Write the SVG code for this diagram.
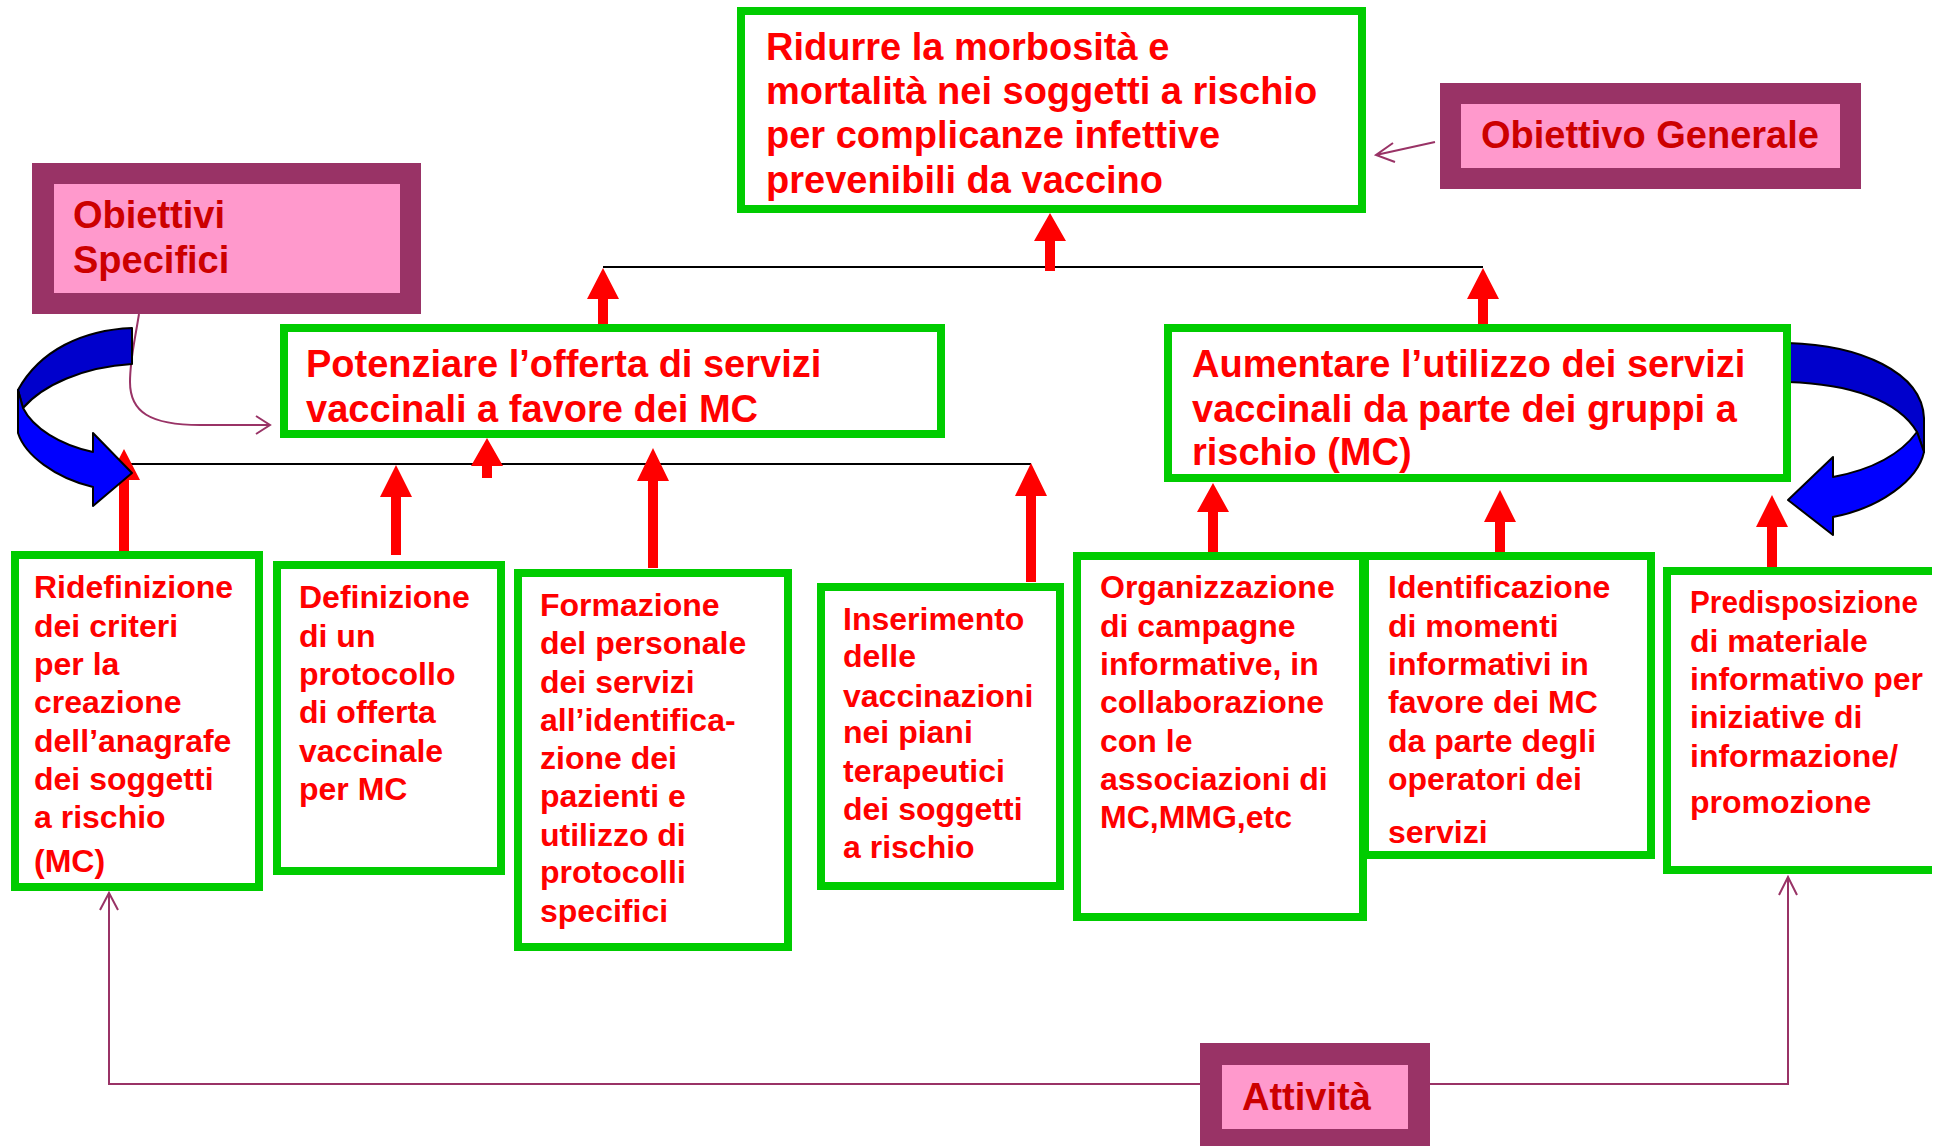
<svg xmlns="http://www.w3.org/2000/svg" width="1941" height="1146" viewBox="0 0 1941 1146">
<style>
.g{fill:#fff;stroke:#00CC00;stroke-width:8}
.t{font-family:"Liberation Sans",Arial,sans-serif;font-weight:bold;fill:#FF0000;font-size:32px}
.tl{font-size:38px}
.po{fill:#993366}
.pi{fill:#FF99CC}
.pt{font-family:"Liberation Sans",Arial,sans-serif;font-weight:bold;fill:#CC0000;font-size:38px}
.ra{fill:#FF0000}
.bl{stroke:#000;stroke-width:2;fill:none}
.pl{stroke:#993366;stroke-width:2;fill:none}
.bo{stroke:#000;stroke-width:2;stroke-linejoin:round}
</style>
<rect width="1941" height="1146" fill="#fff"/>

<g id="connectors">
  <line class="bl" x1="603" y1="267" x2="1483" y2="267"/>
  <line class="bl" x1="124" y1="464" x2="1031" y2="464"/>
  <polygon class="ra" points="1050,213 1066,241 1055,241 1055,271 1045,271 1045,241 1034,241"/>
  <polygon class="ra" points="603,268 619,299 608,299 608,324 598,324 598,299 587,299"/>
  <polygon class="ra" points="1483,268 1499,299 1488,299 1488,324 1478,324 1478,299 1467,299"/>
  <polygon class="ra" points="124,449 140,480 129,480 129,551 119,551 119,480 108,480"/>
  <polygon class="ra" points="396,465 412,497 401,497 401,555 391,555 391,497 380,497"/>
  <polygon class="ra" points="487,438 503,466 492,466 492,478 482,478 482,466 471,466"/>
  <polygon class="ra" points="653,448 669,481 658,481 658,568 648,568 648,481 637,481"/>
  <polygon class="ra" points="1031,463 1047,496 1036,496 1036,582 1026,582 1026,496 1015,496"/>
  <polygon class="ra" points="1213,483 1229,512 1218,512 1218,552 1208,552 1208,512 1197,512"/>
  <polygon class="ra" points="1500,490 1516,522 1505,522 1505,552 1495,552 1495,522 1484,522"/>
  <polygon class="ra" points="1772,495 1788,527 1777,527 1777,567 1767,567 1767,527 1756,527"/>
  <path class="pl" d="M1435,142 L1376,155 M1393,143 L1376,155 L1395,162"/>
  <path class="pl" d="M139,314 C134,345 130,360 130,382 C130,412 150,425 200,425 L270,425 M256,416 L270,425 L256,434"/>
  <path class="pl" stroke-width="2.5" d="M109,893 L109,1084 L1200,1084 M1430,1084 L1788,1084 L1788,877 M100,910 L109,893 L118,910 M1779,895 L1788,877 L1797,895"/>
  <g id="blue-arrow-left">
    <path class="bo" fill="#0000CC" d="M132,328 C83,330 40,350 18,390 L23,408 C43,385 83,367 132,364 Z"/>
    <path class="bo" fill="#0000FF" d="M18,390 L18,433 C25,455 55,478 93,487 L93,506 L132,473 L93,433 L93,452 C60,445 33,428 23,408 Z"/>
  </g>
  <g id="blue-arrow-right">
    <path class="bo" fill="#0000CC" d="M1788,343 C1860,345 1922,372 1924,418 L1924,452 L1917,432 C1898,400 1850,384 1788,382 Z"/>
    <path class="bo" fill="#0000FF" d="M1917,432 L1924,452 C1918,480 1880,508 1833,517 L1833,535 L1788,500 L1833,457 L1833,477 C1870,470 1900,455 1917,432 Z"/>
  </g>
</g>

<g id="obiettivo-generale">
  <rect class="po" x="1440" y="83" width="421" height="106"/>
  <rect class="pi" x="1461" y="104" width="379" height="64"/>
  <text class="pt" x="1481" y="148">Obiettivo Generale</text>
</g>

<g id="obiettivi-specifici">
  <rect class="po" x="32" y="163" width="389" height="151"/>
  <rect class="pi" x="54" y="184" width="346" height="109"/>
  <text class="pt"><tspan x="73" y="228">Obiettivi</tspan><tspan x="73" y="273">Specifici</tspan></text>
</g>

<g id="attivita">
  <rect class="po" x="1200" y="1043" width="230" height="110"/>
  <rect class="pi" x="1222" y="1065" width="186" height="64"/>
  <text class="pt" x="1242" y="1110">Attività</text>
</g>

<g id="obiettivo-top">
  <rect class="g" x="741" y="11" width="621" height="198"/>
  <text class="t tl"><tspan x="766" y="60">Ridurre la morbosità e</tspan><tspan x="766" y="104">mortalità nei soggetti a rischio</tspan><tspan x="766" y="148">per complicanze infettive</tspan><tspan x="766" y="193">prevenibili da vaccino</tspan></text>
</g>

<g id="potenziare">
  <rect class="g" x="284" y="328" width="657" height="106"/>
  <text class="t tl"><tspan x="306" y="377">Potenziare l’offerta di servizi</tspan><tspan x="306" y="422">vaccinali a favore dei MC</tspan></text>
</g>

<g id="aumentare">
  <rect class="g" x="1168" y="328" width="619" height="150"/>
  <text class="t tl"><tspan x="1192" y="377">Aumentare l’utilizzo dei servizi</tspan><tspan x="1192" y="422">vaccinali da parte dei gruppi a</tspan><tspan x="1192" y="465">rischio (MC)</tspan></text>
</g>

<g id="ridefinizione">
  <rect class="g" x="15" y="555" width="244" height="332"/>
  <text class="t"><tspan x="34" y="598">Ridefinizione</tspan><tspan x="34" y="637">dei criteri</tspan><tspan x="34" y="675">per la</tspan><tspan x="34" y="713">creazione</tspan><tspan x="34" y="752">dell’anagrafe</tspan><tspan x="34" y="790">dei soggetti</tspan><tspan x="34" y="828">a rischio</tspan><tspan x="34" y="872">(MC)</tspan></text>
</g>

<g id="definizione">
  <rect class="g" x="277" y="565" width="224" height="306"/>
  <text class="t"><tspan x="299" y="608">Definizione</tspan><tspan x="299" y="647">di un</tspan><tspan x="299" y="685">protocollo</tspan><tspan x="299" y="723">di offerta</tspan><tspan x="299" y="762">vaccinale</tspan><tspan x="299" y="800">per MC</tspan></text>
</g>

<g id="formazione">
  <rect class="g" x="518" y="573" width="270" height="374"/>
  <text class="t"><tspan x="540" y="616">Formazione</tspan><tspan x="540" y="654">del personale</tspan><tspan x="540" y="693">dei servizi</tspan><tspan x="540" y="731">all’identifica-</tspan><tspan x="540" y="769">zione dei</tspan><tspan x="540" y="807">pazienti e</tspan><tspan x="540" y="846">utilizzo di</tspan><tspan x="540" y="883">protocolli</tspan><tspan x="540" y="922">specifici</tspan></text>
</g>

<g id="inserimento">
  <rect class="g" x="821" y="587" width="239" height="299"/>
  <text class="t"><tspan x="843" y="630">Inserimento</tspan><tspan x="843" y="667">delle</tspan><tspan x="843" y="707">vaccinazioni</tspan><tspan x="843" y="743">nei piani</tspan><tspan x="843" y="782">terapeutici</tspan><tspan x="843" y="820">dei soggetti</tspan><tspan x="843" y="858">a rischio</tspan></text>
</g>

<g id="organizzazione">
  <rect class="g" x="1077" y="556" width="286" height="361"/>
  <text class="t"><tspan x="1100" y="598">Organizzazione</tspan><tspan x="1100" y="637">di campagne</tspan><tspan x="1100" y="675">informative, in</tspan><tspan x="1100" y="713">collaborazione</tspan><tspan x="1100" y="752">con le</tspan><tspan x="1100" y="790">associazioni di</tspan><tspan x="1100" y="828">MC,MMG,etc</tspan></text>
</g>

<g id="identificazione">
  <rect class="g" x="1365" y="556" width="286" height="299"/>
  <text class="t"><tspan x="1388" y="598">Identificazione</tspan><tspan x="1388" y="637">di momenti</tspan><tspan x="1388" y="675">informativi in</tspan><tspan x="1388" y="713">favore dei MC</tspan><tspan x="1388" y="752">da parte degli</tspan><tspan x="1388" y="790">operatori dei</tspan><tspan x="1388" y="843">servizi</tspan></text>
</g>

<g id="predisposizione">
  <path class="g" d="M1932,571 H1667 V870 H1932"/>
  <text class="t"><tspan x="1690" y="613" textLength="228" lengthAdjust="spacingAndGlyphs">Predisposizione</tspan><tspan x="1690" y="652">di materiale</tspan><tspan x="1690" y="690">informativo per</tspan><tspan x="1690" y="728">iniziative di</tspan><tspan x="1690" y="767">informazione/</tspan><tspan x="1690" y="813">promozione</tspan></text>
</g>
</svg>
